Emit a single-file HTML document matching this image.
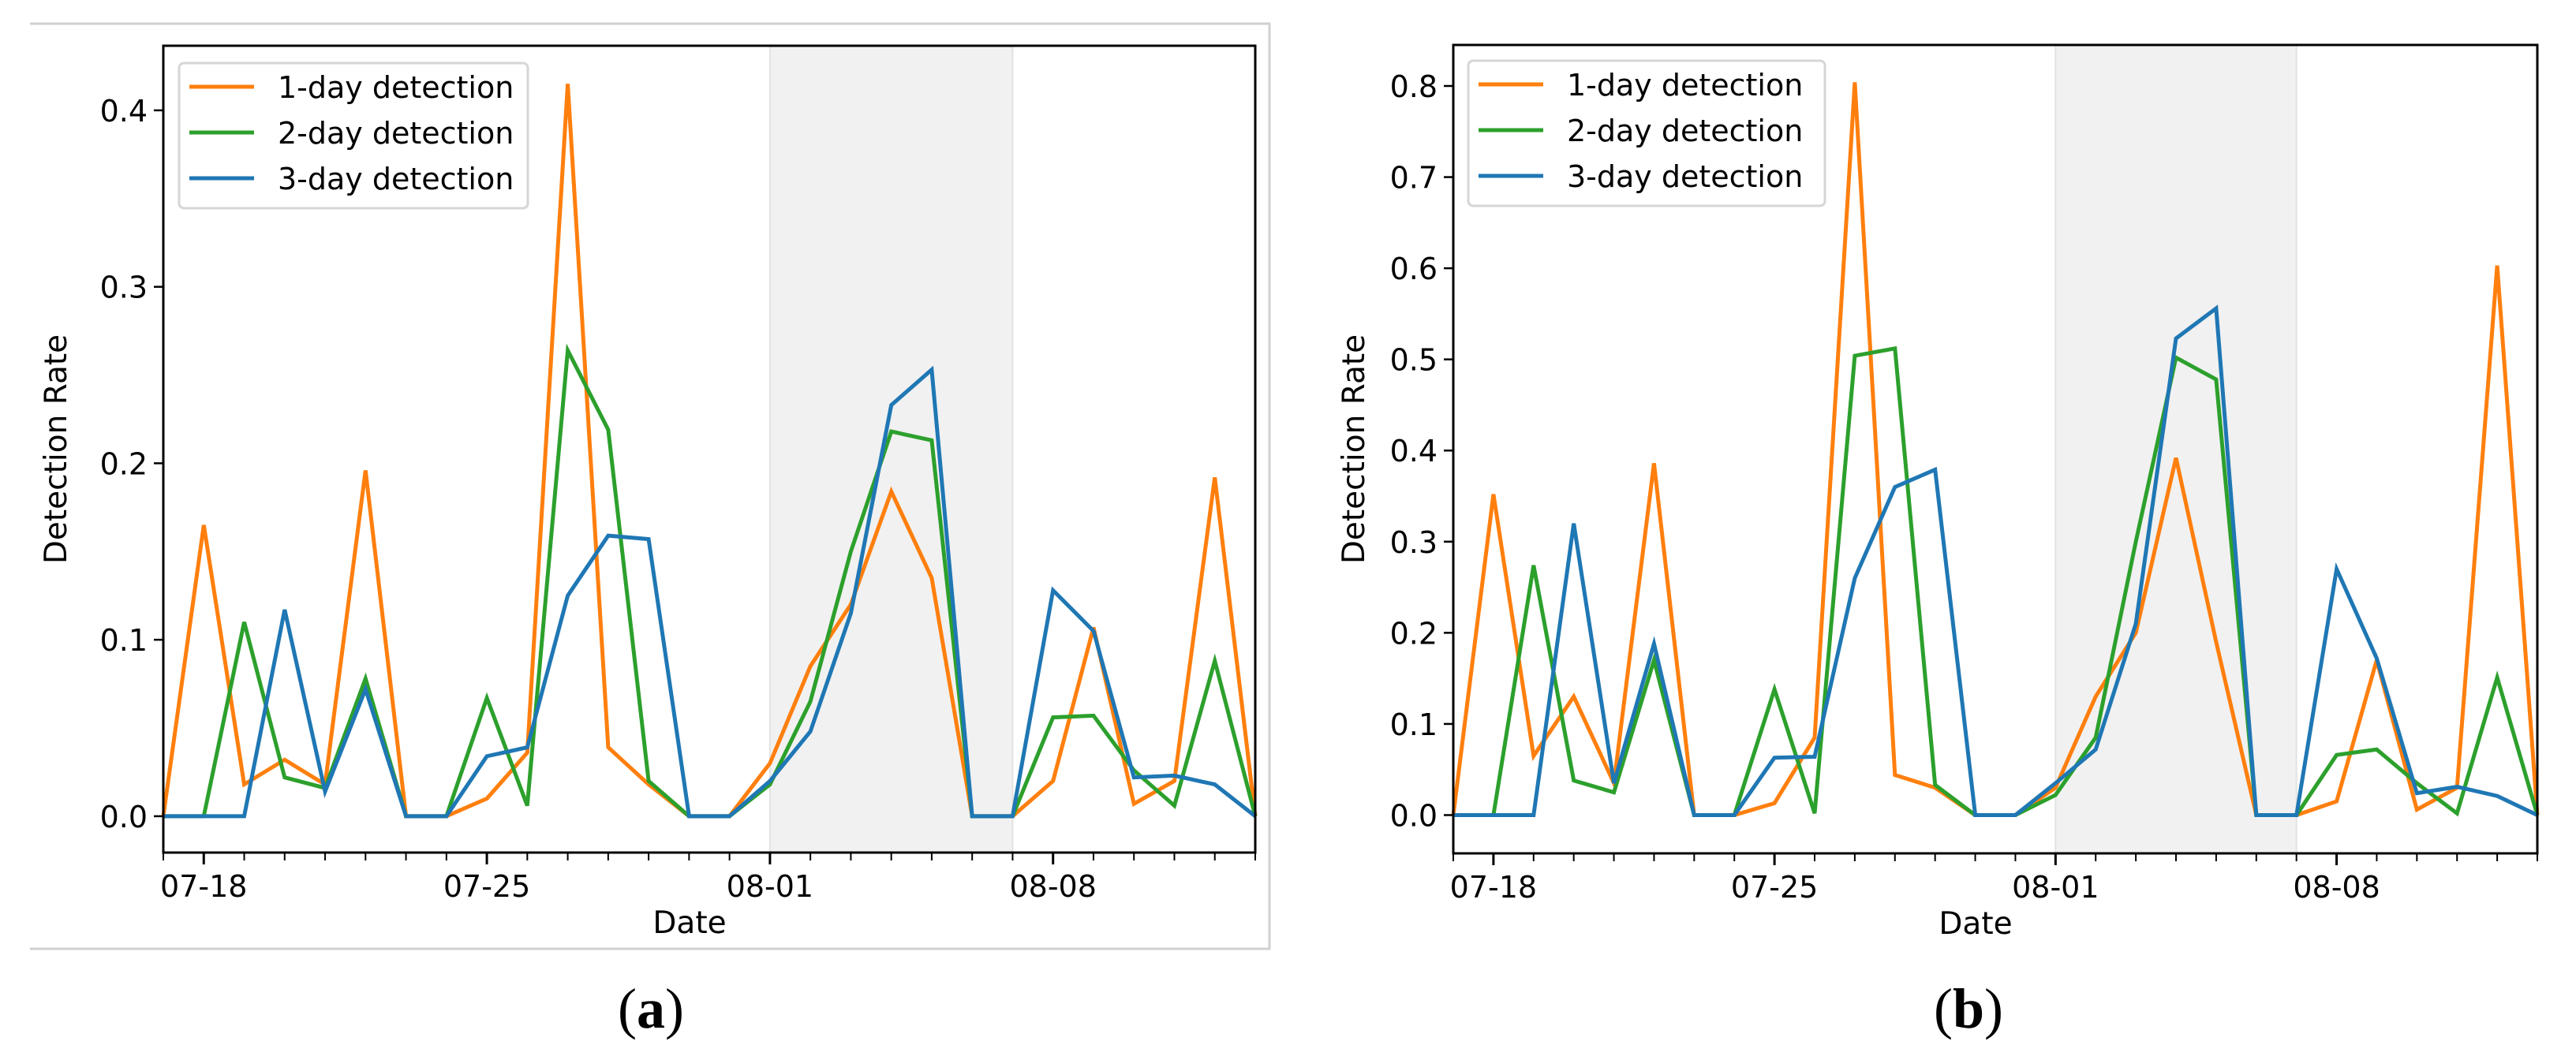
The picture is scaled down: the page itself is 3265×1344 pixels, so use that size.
<!DOCTYPE html>
<html><head><meta charset="utf-8">
<style>
html,body{margin:0;padding:0;background:#fff;}
svg{display:block;font-family:"DejaVu Sans","Liberation Sans",sans-serif;}
</style></head>
<body>
<svg id="fig" width="3265" height="1344" viewBox="0 0 3265 1344" xmlns="http://www.w3.org/2000/svg">
<rect x="0" y="0" width="3265" height="1344" fill="#fff"/>
<path d="M38 30 H1609 V1203 H38" fill="none" stroke="#d0d0d0" stroke-width="3"/>
<g id="chartA"></g>
<g id="chartB"></g>
<text x="825" y="1303" text-anchor="middle" font-family="Liberation Serif, serif" font-size="72">(<tspan font-weight="bold">a</tspan>)</text>
<text x="2495" y="1303" text-anchor="middle" font-family="Liberation Serif, serif" font-size="72">(<tspan font-weight="bold">b</tspan>)</text>
</svg>
<script>
const dateTicks = ["07-18","07-25","08-01","08-08"];
const dateTickDays = [1,8,15,22];
const shadeStartDay = 15, shadeEndDay = 21;
const seriesNames = ["1-day detection","2-day detection","3-day detection"];
const seriesColors = ["#ff7f0e","#2ca02c","#1f77b4"];

const a1 = [0,0.165,0.018,0.032,0.018,0.196,0,0,0.01,0.036,0.415,0.039,0.018,0,0,0.03,0.085,0.12,0.184,0.135,0,0,0.02,0.107,0.007,0.02,0.192,0];
const a2 = [0,0,0.11,0.022,0.016,0.078,0,0,0.067,0.006,0.264,0.219,0.02,0,0,0.018,0.065,0.15,0.218,0.213,0,0,0.056,0.057,0.026,0.006,0.088,0];
const a3 = [0,0,0,0.117,0.014,0.072,0,0,0.034,0.039,0.125,0.159,0.157,0,0,0.02,0.048,0.115,0.233,0.253,0,0,0.128,0.105,0.022,0.023,0.018,0];
const aTicks = [0.0,0.1,0.2,0.3,0.4];

const b1 = [0,0.352,0.065,0.13,0.035,0.386,0,0,0.013,0.085,0.804,0.044,0.03,0,0,0.03,0.13,0.2,0.392,0.19,0,0,0.015,0.17,0.006,0.03,0.603,0];
const b2 = [0,0,0.274,0.038,0.025,0.17,0,0,0.138,0.002,0.504,0.512,0.033,0,0,0.022,0.085,0.3,0.502,0.478,0,0,0.066,0.072,0.035,0.002,0.151,0];
const b3 = [0,0,0,0.32,0.035,0.188,0,0,0.063,0.064,0.26,0.36,0.379,0,0,0.035,0.072,0.21,0.523,0.556,0,0,0.27,0.172,0.024,0.031,0.021,0];
const bTicks = [0.0,0.1,0.2,0.3,0.4,0.5,0.6,0.7,0.8];

const NS = "http://www.w3.org/2000/svg";
function mk(parent, tag, attrs){
  const e = document.createElementNS(NS, tag);
  for (const k in attrs) e.setAttribute(k, attrs[k]);
  parent.appendChild(e);
  return e;
}

function drawChart(g, cfg, series, yTicks, suffix){
  const L=cfg.left, R=cfg.right, T=cfg.top, B=cfg.bottom;
  const nDays = series[0].length - 1;
  const xs = d => L + (R-L)*d/nDays;
  const ys = v => B - (B-T)*(v-cfg.ymin)/(cfg.ymax-cfg.ymin);

  const shade = mk(g,'rect',{x:xs(shadeStartDay),y:T,width:xs(shadeEndDay)-xs(shadeStartDay),height:B-T,fill:'#f1f1f1',stroke:'#e2e2e2','stroke-width':2});
  
  

  series.forEach((s,i)=>{
    const pts = s.map((v,d)=>xs(d).toFixed(1)+','+ys(v).toFixed(1)).join(' ');
    const pl = mk(g,'polyline',{points:pts,fill:'none',stroke:seriesColors[i],'stroke-width':5,'stroke-linejoin':'miter'});
    
    
  });

  const frame = mk(g,'rect',{x:L,y:T,width:R-L,height:B-T,fill:'none',stroke:'#000','stroke-width':3});
  
  

  yTicks.forEach(v=>{
    const y = ys(v);
    const t = mk(g,'line',{x1:L-12,x2:L,y1:y,y2:y,stroke:'#000','stroke-width':2.5});
    
    
    const tx = mk(g,'text',{x:L-20,y:y+14,'text-anchor':'end','font-size':38});
    tx.textContent = v.toFixed(1);
    
    
  });

  for (let d=0; d<=nDays; d++){
    const major = dateTickDays.indexOf(d) >= 0;
    const t = mk(g,'line',{x1:xs(d),x2:xs(d),y1:B,y2:B+(major?15:10),stroke:'#000','stroke-width':major?3:2});
    
    
  }
  dateTicks.forEach((lab,i)=>{
    const tx = mk(g,'text',{x:xs(dateTickDays[i]),y:B+56,'text-anchor':'middle','font-size':38});
    tx.textContent = lab;
    
    
  });

  const xl = mk(g,'text',{x:(L+R)/2-25,y:B+102,'text-anchor':'middle','font-size':39});
  xl.textContent = 'Date';
  
  

  const yl = mk(g,'text',{x:0,y:0,'text-anchor':'middle','font-size':39,transform:'translate('+cfg.ylabelX+','+((T+B)/2)+') rotate(-90)'});
  yl.textContent = 'Detection Rate';
  
  

  const lg = mk(g,'g',{});
  
  
  const lx = cfg.legX, ly = cfg.legY;
  mk(lg,'rect',{x:lx,y:ly,width:cfg.legW,height:184,rx:6,fill:'#fff','fill-opacity':0.85,stroke:'#d6d6d6','stroke-width':3});
  seriesNames.forEach((nm,i)=>{
    const yy = ly + 30 + i*58;
    const ln = mk(lg,'line',{x1:lx+13,x2:lx+95,y1:yy,y2:yy,stroke:seriesColors[i],'stroke-width':5});
    
    
    const tx = mk(lg,'text',{x:lx+125,y:yy+14,'font-size':38});
    tx.textContent = nm;
    
    
  });
}

drawChart(document.getElementById('chartA'),
  {left:207,right:1591,top:58,bottom:1081,ymin:-0.0206,ymax:0.4366,ylabelX:84,legX:227,legY:80,legW:442},
  [a1,a2,a3], aTicks, 'a');
drawChart(document.getElementById('chartB'),
  {left:1842,right:3216,top:57,bottom:1082,ymin:-0.042,ymax:0.845,ylabelX:1729,legX:1861,legY:77,legW:452},
  [b1,b2,b3], bTicks, 'b');
</script>
</body></html>
